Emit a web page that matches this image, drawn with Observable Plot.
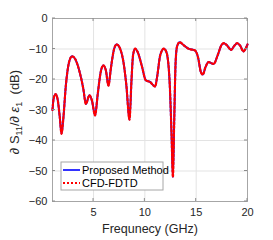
<!DOCTYPE html>
<html><head><meta charset="utf-8">
<script src="https://cdn.jsdelivr.net/npm/d3@7"></script>
<script src="https://cdn.jsdelivr.net/npm/@observablehq/plot@0.6"></script>
<style>body{margin:0;background:#fff}#c{position:relative;width:273px;height:240px}</style>
</head><body><div id="c"></div>
<script>
const freq = [1.0,1.1,1.3,1.5,1.7,1.88,2.05,2.3,2.6,2.9,3.2,3.6,4.0,4.25,4.6,4.85,5.15,5.4,5.7,5.95,6.2,6.45,6.7,7.0,7.25,7.6,7.9,8.2,8.5,8.7,8.85,9.05,9.3,9.7,10.1,10.5,11.0,11.2,11.5,11.85,12.1,12.4,12.6,12.73,12.85,13.0,13.15,13.4,13.8,14.25,14.9,15.2,15.45,15.65,15.9,16.2,16.7,17.1,17.45,17.7,18.0,18.4,18.7,19.0,19.3,19.6,19.8,20.0];
const proposed = [-30,-26.5,-24.8,-26.5,-32,-37.8,-33,-22,-14.5,-12.4,-13.2,-17,-23,-28,-25.2,-27,-31.8,-25,-17.5,-15.4,-17,-22,-16,-10,-8.5,-10,-14,-22,-33.2,-20,-12,-9.9,-11,-15.5,-20.3,-20.8,-22.3,-19,-12,-9.9,-11,-20,-38,-52,-35,-14,-9,-7.8,-8.8,-9.9,-10.5,-13,-17.5,-18.4,-16,-14.3,-14.9,-12,-8.8,-8.1,-8.8,-10.3,-9,-8.1,-9,-10.8,-10,-8.5];
const cfd = proposed.slice();
const xTicks = [5,10,15,20];
const yTicks = [0,-10,-20,-30,-40,-50,-60];
const seriesNames = ["Proposed Method","CFD-FDTD"];
const seriesColors = ["#0000ff","#ff0000"];

const dataP = freq.map((f,i)=>({f, v: proposed[i]}));
const dataC = freq.map((f,i)=>({f, v: cfd[i]}));
const FONT = "Liberation Sans, Arial, sans-serif";

const chart = Plot.plot({
  width: 273, height: 240,
  marginLeft: 52, marginTop: 18, marginRight: 26, marginBottom: 39,
  style: {fontFamily: FONT, fontSize: "11px", color: "#262626", background: "#fff"},
  x: {domain: [1,20], ticks: xTicks, label: null},
  y: {domain: [-60,0], ticks: yTicks, label: null},
  marks: [
    Plot.gridX(xTicks, {stroke: "#e3e3e3", strokeOpacity: 1}),
    Plot.gridY(yTicks, {stroke: "#e3e3e3", strokeOpacity: 1}),
    Plot.frame({stroke: "#a6a6a6"}),
    Plot.axisX(xTicks, {tickSize: 0, tickPadding: 7, fontSize: 11, fill: "#262626"}),
    Plot.axisY(yTicks, {tickSize: 0, tickPadding: 5, fontSize: 11, fill: "#262626"}),
    Plot.line(dataP, {x: "f", y: "v", stroke: seriesColors[0], strokeWidth: 2, curve: "monotone-x"}),
    Plot.line(dataC, {x: "f", y: "v", stroke: seriesColors[1], strokeWidth: 2.2, strokeDasharray: "2,2", curve: "monotone-x"})
  ]
});
document.getElementById("c").appendChild(chart);

const svg = d3.select(chart);
const sx = chart.scale("x"), sy = chart.scale("y");
const L = 52, R = 247, T = 18, B = 201;
const gT = svg.append("g").attr("stroke", "#8c8c8c");
yTicks.forEach(t=>{
  const y = sy.apply(t);
  gT.append("line").attr("x1", L).attr("x2", L+3).attr("y1", y).attr("y2", y);
  gT.append("line").attr("x1", R).attr("x2", R-3).attr("y1", y).attr("y2", y);
});
xTicks.forEach(t=>{
  const x = sx.apply(t);
  gT.append("line").attr("x1", x).attr("x2", x).attr("y1", T).attr("y2", T+3);
  gT.append("line").attr("x1", x).attr("x2", x).attr("y1", B).attr("y2", B-3);
});
// x label
svg.append("text").attr("x", 150).attr("y", 233).attr("text-anchor", "middle")
  .attr("font-size", 12.5).attr("fill", "#262626").attr("font-family", FONT)
  .text("Frequnecy (GHz)");
// y label
const yl = svg.append("text").attr("text-anchor", "start")
  .attr("font-size", 13).attr("fill", "#262626").attr("font-family", FONT);
yl.append("tspan").attr("font-style", "italic").text("∂");
yl.append("tspan").text(" S");
yl.append("tspan").attr("dy", 3).attr("font-size", 9).text("11");
yl.append("tspan").attr("dy", -3).text("/");
yl.append("tspan").attr("font-style", "italic").text("∂ ε");
yl.append("tspan").attr("dy", 3).attr("font-size", 9).text("1");
yl.append("tspan").attr("dy", -3).text("  (dB)");
const len = yl.node().getComputedTextLength();
yl.attr("transform", `translate(19,${112 + len/2}) rotate(-90)`);
// legend
const lg = svg.append("g").attr("font-family", FONT).attr("font-size", 11).attr("fill", "#000").attr("text-anchor", "start");
lg.append("rect").attr("x", 61).attr("y", 162).attr("width", 102).attr("height", 28).attr("fill", "#fff").attr("stroke", "#a6a6a6");
lg.append("line").attr("x1", 63).attr("x2", 80).attr("y1", 170).attr("y2", 170).attr("stroke", seriesColors[0]).attr("stroke-width", 1.6);
lg.append("line").attr("x1", 63).attr("x2", 80).attr("y1", 183).attr("y2", 183).attr("stroke", seriesColors[1]).attr("stroke-width", 2).attr("stroke-dasharray", "2,2");
lg.append("text").attr("x", 82).attr("y", 174).text(seriesNames[0]);
lg.append("text").attr("x", 82).attr("y", 187).text(seriesNames[1]);
</script></body></html>
